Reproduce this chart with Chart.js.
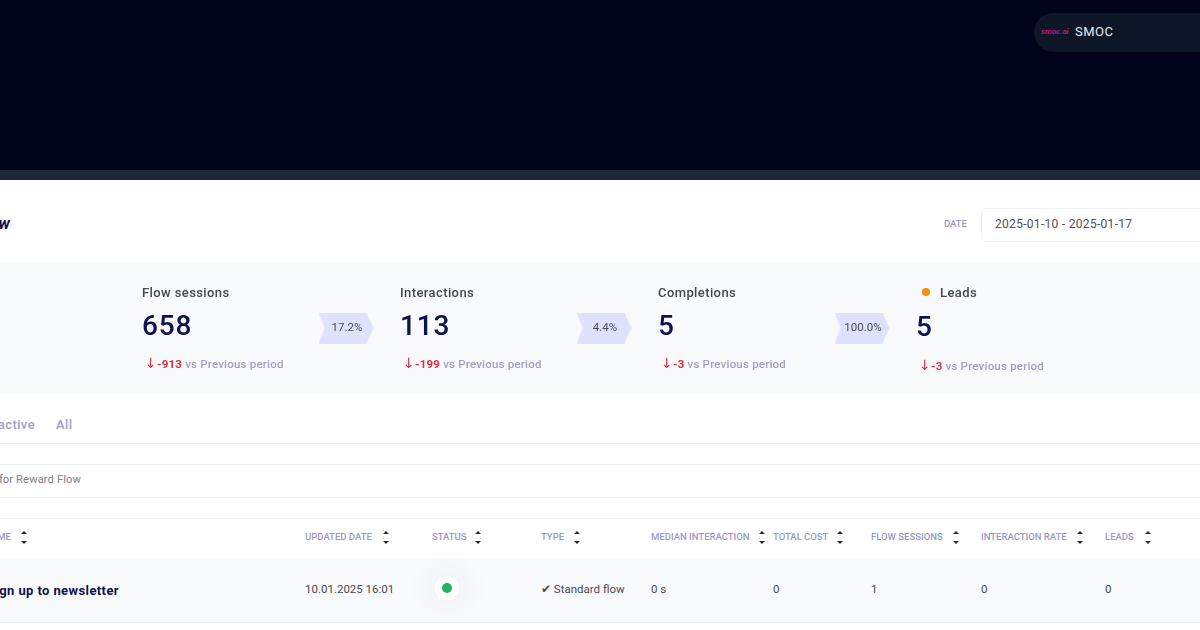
<!DOCTYPE html>
<html>
<head>
<meta charset="utf-8">
<script src="https://cdn.jsdelivr.net/npm/chart.js@4"></script>
<style>
html, body { margin: 0; width: 1200px; height: 630px; overflow: hidden; background: #fff; }
body { position: relative; font-family: Roboto, sans-serif; color: #4a4a52; }
.t { position: absolute; white-space: nowrap; line-height: 1; transform: translateY(-50%); }
.box { position: absolute; }
.stage { font-size: 13px; font-weight: 500; color: #46464e; letter-spacing: 0.4px; }
.total { font-size: 28px; font-weight: 500; color: #0d1150; letter-spacing: 0.8px; }
.delta { font-size: 11.5px; font-weight: 500; color: #a0a0c8; letter-spacing: 0.2px; }
.delta b { color: #dc2e3c; font-weight: 700; }
.delta i { color: #dc2e3c; font-style: normal; font-size: 14px; margin-right: 0; font-family: "DejaVu Sans"; }
.head { font-size: 9.5px; font-weight: 500; color: #9a9ac4; }
.cell { font-size: 11.5px; color: #4a4a52; }
.up, .down { position: absolute; width: 0; height: 0; border-left: 3.5px solid transparent; border-right: 3.5px solid transparent; }
.up { border-bottom: 3px solid #2a2a2e; }
.down { border-top: 3px solid #2a2a2e; }
</style>
</head>
<body>
<div class="box" style="left:0;top:0;width:1200px;height:170px;background:#01031a"></div>
<div class="box" style="left:0;top:170px;width:1200px;height:10px;background:#1e2839"></div>
<div class="box" style="left:1034px;top:13px;width:190px;height:39px;border-radius:20px;background:#0e1728"></div>
<div class="t" style="left:1041px;top:32px;font-size:8px;font-weight:700;font-style:italic;color:#b8157a">smoc.ai</div>
<div class="t" style="left:1075px;top:31px;font-size:13px;font-weight:400;color:#e8eaf0;letter-spacing:.5px">SMOC</div>

<div class="t" style="right:1190px;top:224px;font-size:16px;font-weight:700;font-style:italic;color:#0d1150">w</div>
<div class="t head" style="left:944px;top:224px">DATE</div>
<div class="box" style="left:981px;top:208px;width:240px;height:32px;border:1px solid #eff0f5;border-radius:6px"></div>
<div class="t" style="left:995px;top:223.5px;font-size:12px;color:#4f4f55;letter-spacing:.3px">2025-01-10 - 2025-01-17</div>

<div class="box" style="left:0;top:262px;width:1200px;height:132px;background:#f9fafc"></div>
<canvas id="funnel" width="1032" height="132" style="position:absolute;left:217px;top:262px"></canvas>

<div class="t" style="right:1165px;top:424px;font-size:13px;font-weight:500;color:#a0a0c8;letter-spacing:.4px">active</div>
<div class="t" style="left:56px;top:424px;font-size:13px;font-weight:500;color:#a0a0c8;letter-spacing:.4px">All</div>
<div class="box" style="left:0;top:443px;width:1200px;height:1px;background:#f0f1f5"></div>
<div class="box" style="left:0;top:464px;width:1200px;height:1px;background:#eceef4"></div>
<div class="t" style="right:1119px;top:480px;font-size:11.2px;color:#808086;letter-spacing:.1px">for Reward Flow</div>
<div class="box" style="left:0;top:497px;width:1200px;height:1px;background:#eceef4"></div>
<div class="box" style="left:0;top:518px;width:1200px;height:1px;background:#f2f3f7"></div>
<div class="box" style="left:0;top:558px;width:1200px;height:64px;background:#f9fafc"></div>
<div class="box" style="left:0;top:622px;width:1200px;height:1px;background:#eceef4"></div>
<div class="t" style="right:1081px;top:589.5px;font-size:13px;font-weight:700;color:#0d1150;letter-spacing:.4px">gn up to newsletter</div>

<div class="box" style="left:407px;top:548px;width:80px;height:80px;border-radius:50%;background:radial-gradient(circle,#f2f3f7 0%,rgba(249,250,252,0) 70%)"></div>
<div class="box" style="left:435px;top:576px;width:24px;height:24px;border-radius:50%;background:#fff"></div>
<div class="box" style="left:442px;top:583px;width:10px;height:10px;border-radius:50%;background:#23b35f"></div>
<div class="box" style="left:922px;top:288px;width:8px;height:8px;border-radius:50%;background:#f29111"></div>

<script>
const stages = ["Flow sessions", "Interactions", "Completions", "Leads"];
const totals = ["658", "113", "5", "5"];
const deltas = ["-913", "-199", "-3", "-3"];
const rates = [17.2, 4.4, 100.0, null];

const stageX = [142, 400, 658, 916];
const columns = ["ME", "UPDATED DATE", "STATUS", "TYPE", "MEDIAN INTERACTION", "TOTAL COST", "FLOW SESSIONS", "INTERACTION RATE", "LEADS"];
const columnX = [0, 305, 432, 541, 651, 773, 871, 981, 1105];
const sortX = [24, 386, 478, 577, 762, 840, 956, 1080, 1148];
const rowCells = ["", "10.01.2025 16:01", "", "\u2714 Standard flow", "0 s", "0", "1", "0", "0"];

function addText(cls, x, y, html) {
    const el = document.createElement("div");
    el.className = "t " + cls;
    el.style.left = x + "px";
    el.style.top = y + "px";
    el.innerHTML = html;
    document.body.appendChild(el);
    return el;
}

// bandeau du haut : labels, totaux et ecarts
for (let i = 0; i < stages.length; i++) {
    const last = i === 3;
    addText("stage", last ? stageX[i] + 24 : stageX[i], 292, stages[i]);
    addText("total", stageX[i], last ? 327 : 326, totals[i]);
    addText("delta", stageX[i] + 3, last ? 364.5 : 362.5, `<i>\u2193</i><b>${deltas[i]}</b> vs Previous period`);
}

// en-tetes du tableau
for (let i = 0; i < columns.length; i++) {
    if (i === 0) {
        const el = addText("head", 0, 537, columns[i]);
        el.style.left = "auto";
        el.style.right = "1189px";
    } else {
        addText("head", columnX[i], 537, columns[i]);
    }
    const up = document.createElement("div");
    up.className = "up";
    up.style.cssText = `left:${sortX[i] - 3.5}px;top:531px`;
    const down = document.createElement("div");
    down.className = "down";
    down.style.cssText = `left:${sortX[i] - 3.5}px;top:541px`;
    document.body.append(up, down);
    if (rowCells[i]) addText("cell", columnX[i], 589.5, rowCells[i]);
}

// fleche du taux de conversion, utilisee comme pointStyle
function chevron() {
    const c = document.createElement("canvas");
    c.width = 55;
    c.height = 31;
    const ctx = c.getContext("2d");
    ctx.fillStyle = "#dfe2fd";
    ctx.beginPath();
    ctx.moveTo(0, 0);
    ctx.lineTo(48, 0);
    ctx.lineTo(55, 15.5);
    ctx.lineTo(48, 31);
    ctx.lineTo(0, 31);
    ctx.lineTo(6, 15.5);
    ctx.closePath();
    ctx.fill();
    return c;
}

const rateLabels = {
    id: "rateLabels",
    afterDatasetsDraw(chart) {
        const ctx = chart.ctx;
        const meta = chart.getDatasetMeta(0);
        ctx.save();
        ctx.font = "400 11.5px Roboto";
        ctx.fillStyle = "#4a4a55";
        ctx.textAlign = "center";
        ctx.textBaseline = "middle";
        rates.forEach((r, i) => {
            if (r !== null) ctx.fillText(r.toFixed(1) + "%", meta.data[i].x + 1, meta.data[i].y);
        });
        ctx.restore();
    }
};

new Chart(document.querySelector("#funnel"), {
    type: "line",
    data: {
        labels: stages,
        datasets: [{
            data: rates.map(r => (r === null ? null : 0)),
            showLine: false,
            clip: false,
            pointStyle: chevron(),
            pointRadius: 20
        }]
    },
    options: {
        responsive: false,
        animation: false,
        layout: { autoPadding: false, padding: 0 },
        plugins: { legend: { display: false }, tooltip: { enabled: false } },
        scales: {
            x: { display: false, offset: true },
            y: { display: false, min: -1, max: 1 }
        }
    },
    plugins: [rateLabels]
});
</script>
</body>
</html>
